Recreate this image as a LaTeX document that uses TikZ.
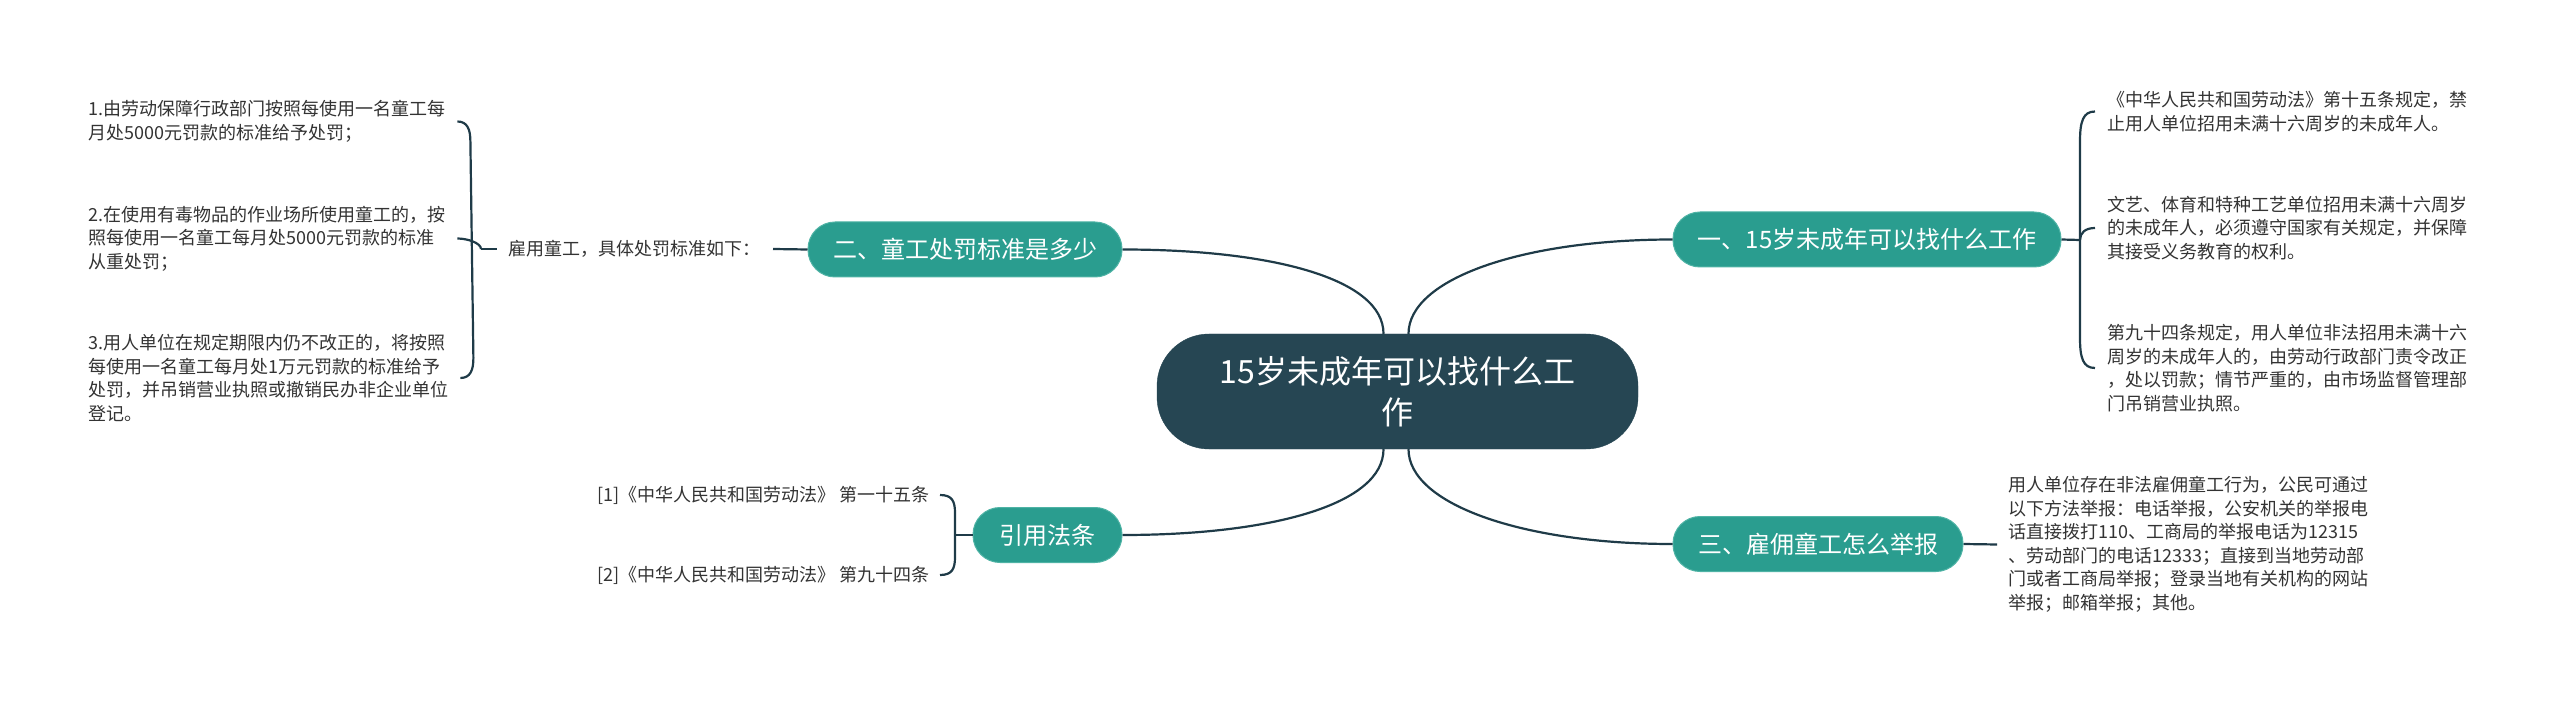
\documentclass[tikz,border=0pt]{standalone}
\usepackage{fontspec}
\setmainfont{Noto Sans CJK SC}
\usetikzlibrary{calc}
\definecolor{teal1}{HTML}{2A9D8F}
\definecolor{tealedge}{HTML}{4FB3A5}
\definecolor{dark1}{HTML}{264653}
\definecolor{line1}{HTML}{1F3B48}
\definecolor{txt}{HTML}{333333}
\begin{document}
\begin{tikzpicture}[x=1pt,y=-1pt,
  conn/.style={draw=line1, line width=2.2pt},
  branch/.style={fill=teal1, draw=tealedge, line width=1pt, rounded corners=27pt,
    text=white, font=\fontsize{24}{28}\selectfont, inner sep=0pt, minimum height=55pt},
  para/.style={text=txt, font=\fontsize{18}{23.5}\selectfont, align=left,
    inner ysep=0pt, inner xsep=12pt},
  root/.style={fill=dark1, draw=dark1, rounded corners=52pt, minimum width=481pt,
    minimum height=115pt, text=white, font=\fontsize{32}{41}\selectfont, align=center}]
\useasboundingbox (0,0) rectangle (2560,703);

% central
\node[root] (c) at (1397.5,391.5) {15岁未成年可以找什么工\\作};

% branches
\node[branch, minimum width=388pt] (n1) at (1867,239.5) {一、15岁未成年可以找什么工作};
\node[branch, minimum width=314pt] (n2) at (965,249.5) {二、童工处罚标准是多少};
\node[branch, minimum width=290pt] (n3) at (1818,544) {三、雇佣童工怎么举报};
\node[branch, minimum width=149pt] (yy) at (1047.5,535) {引用法条};

% branch 1 children
\node[para, anchor=west] (r1) at (2095,111.5) {《中华人民共和国劳动法》第十五条规定，禁\\止用人单位招用未满十六周岁的未成年人。};
\node[para, anchor=west] (r2) at (2095,228) {文艺、体育和特种工艺单位招用未满十六周岁\\的未成年人，必须遵守国家有关规定，并保障\\其接受义务教育的权利。};
\node[para, anchor=west] (r3) at (2095,368) {第九十四条规定，用人单位非法招用未满十六\\周岁的未成年人的，由劳动行政部门责令改正\\，处以罚款；情节严重的，由市场监督管理部\\门吊销营业执照。};

% branch 2 children
\node[para, anchor=east] (s1) at (773,249) {雇用童工，具体处罚标准如下：};
\node[para, anchor=west] (p1) at (76,121.5) {1.由劳动保障行政部门按照每使用一名童工每\\月处5000元罚款的标准给予处罚；};
\node[para, anchor=west] (p2) at (76,238.5) {2.在使用有毒物品的作业场所使用童工的，按\\照每使用一名童工每月处5000元罚款的标准\\从重处罚；};
\node[para, anchor=west] (p3) at (76,378) {3.用人单位在规定期限内仍不改正的，将按照\\每使用一名童工每月处1万元罚款的标准给予\\处罚，并吊销营业执照或撤销民办非企业单位\\登记。};

% branch 3 child
\node[para, anchor=west, inner xsep=11pt] (t1) at (1997,544.5) {用人单位存在非法雇佣童工行为，公民可通过\\以下方法举报：电话举报，公安机关的举报电\\话直接拨打110、工商局的举报电话为12315\\、劳动部门的电话12333；直接到当地劳动部\\门或者工商局举报；登录当地有关机构的网站\\举报；邮箱举报；其他。};

% citation children
\node[para, anchor=east, inner xsep=10pt] (c1) at (940,495) {[1]《中华人民共和国劳动法》 第一十五条};
\node[para, anchor=east, inner xsep=10pt] (c2) at (940,575) {[2]《中华人民共和国劳动法》 第九十四条};

% spine junction points
\coordinate (Lsp) at (481,249);
\coordinate (Rsp) at (2080,240);
\coordinate (Ysp) at (955,535);

% main connectors
\draw[conn] ([xshift=-14pt]c.north) .. controls +(0,-55) and +(150,0) .. (n2.east);
\draw[conn] ([xshift=11pt]c.north) .. controls +(0,-55) and +(-150,0) .. (n1.west);
\draw[conn] ([xshift=-14pt]c.south) .. controls +(0,55) and +(150,0) .. (yy.east);
\draw[conn] ([xshift=11pt]c.south) .. controls +(0,55) and +(-150,0) .. (n3.west);

% branch 1 brace
\draw[conn] (n1.east) -- (Rsp);
\draw[conn] (r1.west) .. controls +(-12,0) and +(0,-20) .. ($(r1.west)+(-15,30)$)
  -- ($(r3.west)+(-15,-30)$) .. controls +(0,20) and +(-12,0) .. (r3.west);
\draw[conn] (r2.west) .. controls +(-10,0) and +(0,-7) .. (Rsp);

% branch 2
\draw[conn] (n2.west) -- (s1.east);
\draw[conn] (s1.west) -- (Lsp);
\draw[conn] (p1.east) .. controls +(10,0) and +(0,-12) .. ($(p1.east)+(13,20)$)
  -- ($(p3.east)+(13,-20)$) .. controls +(0,12) and +(10,0) .. (p3.east);
\draw[conn] (p2.east) .. controls +(10,0) and +(0,-6) .. (Lsp);

% branch 3
\draw[conn] (n3.east) -- (t1.west);

% citations
\draw[conn] (yy.west) -- (Ysp);
\draw[conn] (c1.east) .. controls +(12,0) and +(0,-12) .. ($(c1.east)+(15,18)$)
  -- ($(c2.east)+(15,-18)$) .. controls +(0,12) and +(12,0) .. (c2.east);
\end{tikzpicture}
\end{document}
